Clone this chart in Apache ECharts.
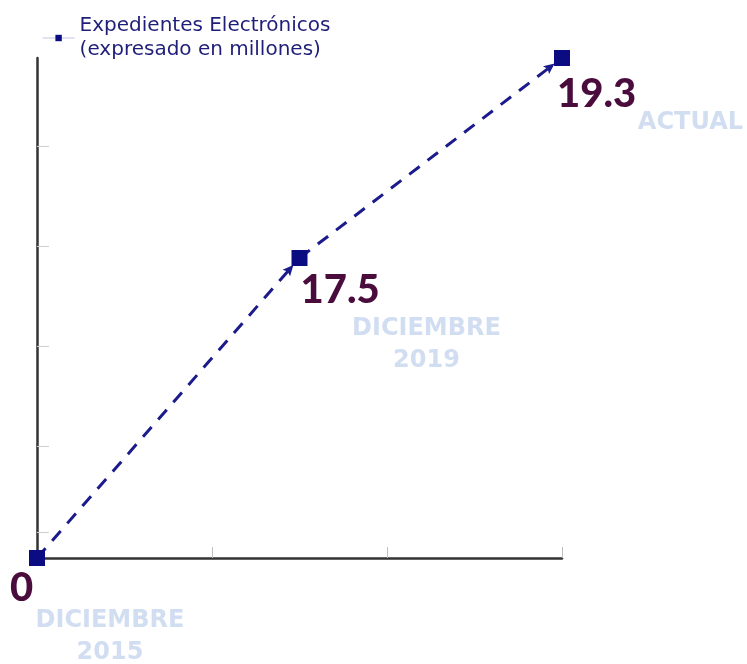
<!DOCTYPE html>
<html>
<head>
<meta charset="utf-8">
<script src="https://cdn.jsdelivr.net/npm/echarts@6/dist/echarts.min.js"></script>
<style>html,body{margin:0;padding:0;background:#fff}#c{width:747px;height:664px}</style>
</head>
<body>
<div id="c"></div>
<script>
// Data
var seriesName = 'Expedientes Electrónicos\n(expresado en millones)';
var periods = ['DICIEMBRE\n2015', 'DICIEMBRE\n2019', 'ACTUAL'];
var valueLabels = ['0', '17.5', '19.3'];
var xPos = [0, 1.5, 3];          // position on the (unlabelled) horizontal axis
var yPos = [0, 3, 5];            // position on the (unlabelled) vertical axis
var xTicks = [1, 2, 3];
var yTicks = [0.26, 1.12, 2.12, 3.12, 4.12];

// Styles (kept apart from data)
var valueLabelPos = [[-19, 18], [9, 20], [3, 24]];
var periodLabelPos = [[81, 55], [135, 63], [189, 57]];
var periodAlign = ['center', 'center', 'right'];
// arrow head whose tip sits ~10px behind the symbol centre (lands on the square's corner)
var arrowHead = 'path://M0,0 L40,0 M20,30 L25,41 L20,39 L15,41 Z';

var navy = '#1b1b8c';
var points = xPos.map(function (x, i) { return [x, yPos[i]]; });

var lineData = points.map(function (p, i) {
  return {
    value: p,
    label: { show: true, formatter: valueLabels[i], position: valueLabelPos[i] }
  };
});
var periodData = points.map(function (p, i) {
  return {
    value: p,
    label: { show: true, formatter: periods[i], position: periodLabelPos[i], align: periodAlign[i] }
  };
});
var segs = [];
for (var i = 0; i < points.length - 1; i++) {
  segs.push({ coords: [points[i], points[i + 1]] });
}

var chart = echarts.init(document.getElementById('c'), null, { renderer: 'canvas' });
chart.setOption({
  animation: false,
  backgroundColor: '#ffffff',
  grid: { left: 37, right: 185, top: 58, bottom: 106 },
  legend: {
    data: [seriesName],
    left: 37, top: 9,
    itemWidth: 32, itemHeight: 8,
    itemGap: 0,
    textStyle: { color: '#1f1f7a', fontSize: 20, lineHeight: 24, fontFamily: 'DejaVu Sans' },
    lineStyle: { color: '#c3c5e4', width: 1.2, opacity: 1, type: 'solid' },
    itemStyle: { color: '#0c0c82', opacity: 1 }
  },
  xAxis: {
    type: 'value', min: 0, max: 3,
    splitLine: { show: false },
    axisLabel: { show: false },
    axisLine: { show: true, lineStyle: { color: '#333333', width: 2.5 } },
    axisTick: { show: true, inside: true, length: 11, customValues: xTicks, lineStyle: { color: '#bdbdbd', width: 1 } }
  },
  yAxis: {
    type: 'value', min: 0, max: 5,
    splitLine: { show: false },
    axisLabel: { show: false },
    axisLine: { show: true, lineStyle: { color: '#333333', width: 2.5 } },
    axisTick: { show: true, inside: true, length: 12, customValues: yTicks, lineStyle: { color: '#cfcfcf', width: 1 } }
  },
  series: [
    {
      type: 'lines',
      coordinateSystem: 'cartesian2d',
      polyline: false,
      z: 2,
      symbol: ['none', arrowHead],
      symbolSize: [1, 40],
      lineStyle: { color: navy, width: 3, type: [13, 10], opacity: 1 },
      data: segs
    },
    {
      name: seriesName,
      type: 'line',
      z: 4,
      data: lineData,
      symbol: 'rect',
      symbolSize: 16,
      showAllSymbol: true,
      itemStyle: { color: '#0c0c82' },
      lineStyle: { opacity: 0, width: 0 },
      label: {
        show: true,
        color: '#4a0c3c',
        fontSize: 40,
        fontWeight: 900,
        fontFamily: 'Lato',
        align: 'left',
        verticalAlign: 'top'
      }
    },
    {
      name: 'periods',
      type: 'scatter',
      z: 3,
      data: periodData,
      symbol: 'rect',
      symbolSize: 16,
      itemStyle: { color: 'rgba(0,0,0,0)' },
      label: {
        show: true,
        color: '#c6d4ee',
        fontSize: 24,
        lineHeight: 32,
        fontWeight: 'bold',
        fontFamily: 'DejaVu Sans',
        verticalAlign: 'top'
      }
    }
  ]
});
</script>
</body>
</html>
